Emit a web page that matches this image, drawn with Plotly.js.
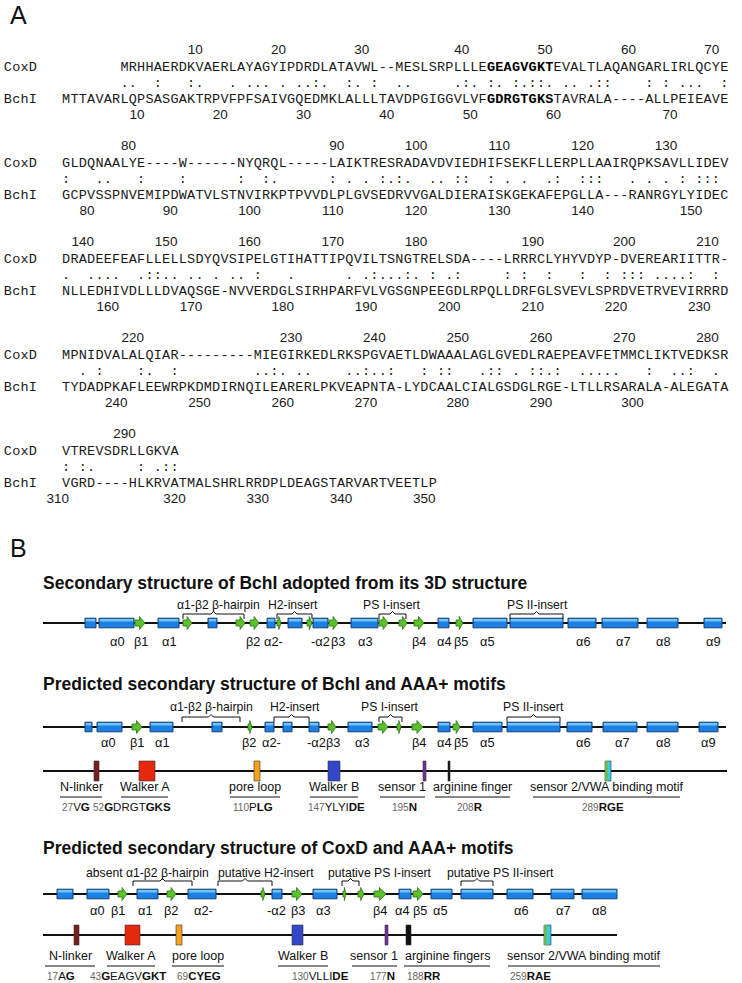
<!DOCTYPE html>
<html>
<head>
<meta charset="utf-8">
<script src="https://cdn.plot.ly/plotly-3.0.1.min.js"></script>
<style>html,body{margin:0;padding:0;background:#fff;}</style>
</head>
<body>
<div id="fig" style="width:742px;height:983px;"></div>
<script>
// ================= Panel A : alignment data =================
const coxdRows = [
  "MRHHAERDKVAERLAYAGYIPDRDLATAVWL--MESLSRPLLLEGEAGVGKTEVALTLAQANGARLIRLQCYE",
  "GLDQNAALYE----W------NYQRQL-----LAIKTRESRADAVDVIEDHIFSEKFLLERPLLAAIRQPKSAVLLIDEV",
  "DRADEEFEAFLLELLSDYQVSIPELGTIHATTIPQVILTSNGTRELSDA----LRRRCLYHYVDYP-DVEREARIITTR-",
  "MPNIDVALALQIAR---------MIEGIRKEDLRKSPGVAETLDWAAALAGLGVEDLRAEPEAVFETMMCLIKTVEDKSR",
  "VTREVSDRLLGKVA"
];
const coxdStartCol = [7, 0, 0, 0, 0];
const bchiRows = [
  "MTTAVARLQPSASGAKTRPVFPFSAIVGQEDMKLALLLTAVDPGIGGVLVFGDRGTGKSTAVRALA----ALLPEIEAVE",
  "GCPVSSPNVEMIPDWATVLSTNVIRKPTPVVDLPLGVSEDRVVGALDIERAISKGEKAFEPGLLA---RANRGYLYIDEC",
  "NLLEDHIVDLLLDVAQSGE-NVVERDGLSIRHPARFVLVGSGNPEEGDLRPQLLDRFGLSVEVLSPRDVETRVEVIRRRD",
  "TYDADPKAFLEEWRPKDMDIRNQILEARERLPKVEAPNTA-LYDCAALCIALGSDGLRGE-LTLLRSARALA-ALEGATA",
  "VGRD----HLKRVATMALSHRLRRDPLDEAGSTARVARTVEETLP"
];
const matchRows = [
  "       ..  :   :.   . ... . ..:.  :. :  ..     .:. :. :.::. .. .::    : : ...  :",
  ":   ..   :    :      :  :.      : . . :.:.  .. ::  : . .  .:  :::   . . . : :::",
  ".  ....  .::.. .. . .. :   .      . .:...:. : .:     : :  :   :  : ::: ....:  :",
  "  . :    :.  :         ..:. ..    ..:..:   : ::   .:: . ::.:  .....   :  ..:  .",
  ": :.     : .::"
];
const seqNames = ["CoxD", "BchI"];
// bold (Walker A) runs: [block, firstCol, lastCol]
const coxdBold = [[0, 51, 58]];
const bchiBold = [[0, 51, 58]];

// ================= Panel B : secondary structure data =================
const ss1 = {
  title: "Secondary structure of BchI adopted from its 3D structure",
  line: [43, 726],
  helix: [[85,96],[99,134],[158,179],[208,217],[267,275],[288,302],[313,328],[351,378],[438,449],[473,507],[510,563],[568,596],[602,638],[647,678],[704,722]],
  strand: [[135,145],[183,192],[236,245],[250,259],[277,281],[307,312],[329,338],[379,388],[399,407],[414,424],[456,463]],
  names: ["α0","β1","α1","β2","α2-","-α2","β3","α3","β4","α4","β5","α5","α6","α7","α8","α9"],
  nameX: [117,141,169,253,273,320,338,365,419,444,461,487,583,623,663,713],
  ins: ["α1-β2 β-hairpin","H2-insert","PS I-insert","PS II-insert"],
  insSpan: [[183,244],[277,312],[379,406],[510,563]],
  insX: [218,293,392,537]
};
const ss2 = {
  title: "Predicted secondary structure of BchI and AAA+ motifs",
  line: [43, 726],
  helix: [[85,92],[97,122],[150,173],[212,222],[265,274],[283,292],[309,319],[348,372],[438,450],[473,502],[507,560],[567,592],[603,637],[647,678],[699,718]],
  strand: [[132,142],[248,252],[328,336],[378,388],[397,401],[412,423],[453,460]],
  names: ["α0","β1","α1","β2","α2-","-α2","β3","α3","β4","α4","β5","α5","α6","α7","α8","α9"],
  nameX: [108,137,162,249,271,316,333,362,419,444,461,487,583,622,663,708],
  ins: ["α1-β2 β-hairpin","H2-insert","PS I-insert","PS II-insert"],
  insSpan: [[182,240],[274,309],[379,402],[507,560]],
  insX: [211,295,390,533]
};
const ss3 = {
  title: "Predicted secondary structure of CoxD and AAA+ motifs",
  line: [43, 617],
  helix: [[57,73],[87,109],[137,158],[188,216],[272,282],[313,337],[399,411],[431,452],[461,493],[507,533],[551,574],[582,617]],
  strand: [[118,127],[167,176],[261,265],[292,302],[343,346],[358,364],[374,386],[413,423]],
  names: ["α0","β1","α1","β2","α2-","-α2","β3","α3","β4","α4","β5","α5","α6","α7","α8"],
  nameX: [97,118,145,171,203,276,298,323,380,402,420,440,521,563,599],
  ins: ["absent α1-β2 β-hairpin","putative H2-insert","putative PS I-insert","putative PS II-insert"],
  insSpan: [[133,192],[218,272],[342,359],[461,493]],
  insX: [147,266,380,500]
};
// AAA+ motifs
const motifNames2 = ["N-linker","Walker A","pore loop","Walker B","sensor 1","arginine finger","sensor 2/VWA binding motif"];
const motifNames3 = ["N-linker","Walker A","pore loop","Walker B","sensor 1","arginine fingers","sensor 2/VWA binding motif"];
const motifColors = ["#7a1f1f","#e4290c","#f6a21c","#3447c8","#7b2a9c","#111111","#33cfe6"];
const motifBox2 = [[94,99],[139,155],[254,260],[328,340],[423,426],[448,450],[605,611]];
const motifBox3 = [[74,79],[125,140],[176,182],[292,303],[385,388],[406,411],[544,551]];
const motifSeq2 = ["27V<b>G</b>","52<b>G</b>DRGT<b>GKS</b>","110P<b>LG</b>","147YLYI<b>DE</b>","195<b>N</b>","208<b>R</b>","289<b>RGE</b>"];
const motifSeq3 = ["17A<b>G</b>","43<b>G</b>EAGV<b>GKT</b>","69<b>CYEG</b>","130VLLI<b>DE</b>","177<b>N</b>","188<b>RR</b>","259<b>RAE</b>"];
const motifLabelX2 = [81,145,255,334,402,472,607];
const motifLabelX3 = [70,131,198,303,374,447,584];
const motifUnder2 = [[60,102],[121,168],[230,280],[310,358],[380,425],[435,510],[533,680]];
const motifUnder3 = [[45,95],[107,155],[172,224],[278,328],[352,397],[404,490],[508,660]];
const motifSeqX2 = [76,132,253,336,404,470,603];
const motifSeqX3 = [45,88,175,290,368,405,508];

// ================= drawing =================
const X0 = 62, CW = 8.33;
const BLOCK_Y = 51, BLOCK_DY = 96;
const ROW = {numTop: 0, coxd: 17, match: 33, bchi: 49, numBot: 65};
const colX = c => X0 + (c + 0.5) * CW;
const inRuns = (runs, b, c) => runs.some(r => r[0] === b && c >= r[1] && c <= r[2]);

const norm = {x:[], y:[], t:[]}, bold = {x:[], y:[], t:[]}, nums = {x:[], y:[], t:[]};
let coxdRes = 0, bchiRes = 0;
for (let b = 0; b < coxdRows.length; b++) {
  const y0 = BLOCK_Y + b * BLOCK_DY;
  seqNames.forEach((nm, i) => {
    for (let k = 0; k < nm.length; k++) {
      norm.x.push(colX(k - 7)); norm.y.push(y0 + (i ? ROW.bchi : ROW.coxd)); norm.t.push(nm[k]);
    }
  });
  const cs = coxdRows[b];
  for (let i = 0; i < cs.length; i++) {
    const c = coxdStartCol[b] + i, ch = cs[i];
    const tg = inRuns(coxdBold, b, c) ? bold : norm;
    tg.x.push(colX(c)); tg.y.push(y0 + ROW.coxd); tg.t.push(ch);
    if (ch !== '-') {
      coxdRes++;
      if (coxdRes % 10 === 0) {
        const s = String(coxdRes);
        nums.x.push(X0 + (c + 1 - s.length / 2) * CW); nums.y.push(y0 + ROW.numTop); nums.t.push(s);
      }
    }
  }
  const bs = bchiRows[b];
  for (let c = 0; c < bs.length; c++) {
    const ch = bs[c];
    const tg = inRuns(bchiBold, b, c) ? bold : norm;
    tg.x.push(colX(c)); tg.y.push(y0 + ROW.bchi); tg.t.push(ch);
    if (ch !== '-') {
      bchiRes++;
      if (bchiRes % 10 === 0) {
        const s = String(bchiRes);
        nums.x.push(X0 + (c + 1 - s.length / 2) * CW); nums.y.push(y0 + ROW.numBot); nums.t.push(s);
      }
    }
  }
  const ms = matchRows[b];
  for (let c = 0; c < ms.length; c++) {
    if (ms[c] !== ' ') { norm.x.push(colX(c)); norm.y.push(y0 + ROW.match); norm.t.push(ms[c]); }
  }
}

const seqFontFam = "Liberation Mono, Courier New, monospace";
const traces = [
  {type:'scatter', mode:'text', x:norm.x, y:norm.y, text:norm.t, textposition:'middle center',
   textfont:{family:seqFontFam, size:13.5, color:'#1a1a1a'}, hoverinfo:'skip', showlegend:false, cliponaxis:false},
  {type:'scatter', mode:'text', x:bold.x, y:bold.y, text:bold.t, textposition:'middle center',
   textfont:{family:seqFontFam, size:13.5, color:'#000', weight:'bold'}, hoverinfo:'skip', showlegend:false, cliponaxis:false},
  {type:'scatter', mode:'text', x:nums.x, y:nums.y, text:nums.t, textposition:'middle center',
   textfont:{family:"Liberation Sans, Arial, sans-serif", size:13.5, color:'#1a1a1a'}, hoverinfo:'skip', showlegend:false, cliponaxis:false}
];

const shapes = [];
const annotations = [];
const SANS = "Liberation Sans, Arial, sans-serif";
function ann(x, y, text, size, opts) {
  annotations.push(Object.assign({x:x, y:y, xref:'x', yref:'y', text:text, showarrow:false,
    xanchor:'center', yanchor:'middle', font:{family:SANS, size:size, color:'#111'}}, opts || {}));
}
function hline(x0, x1, y, w, col) {
  shapes.push({type:'line', xref:'x', yref:'y', x0:x0, x1:x1, y0:y, y1:y, line:{color:col || '#111', width:w || 1.5}, layer:'below'});
}
function helix(x0, x1, y) {
  shapes.push({type:'rect', xref:'x', yref:'y', x0:x0, x1:x1, y0:y - 4.8, y1:y + 4.8, fillcolor:'#1c7fe4', line:{color:'#16406f', width:1}});
  shapes.push({type:'rect', xref:'x', yref:'y', x0:x0 + 0.8, x1:x1 - 0.8, y0:y - 4, y1:y - 1.5, fillcolor:'#6ec3f7', line:{width:0}});
}
function strand(x0, x1, y) {
  const hx = x0 + (x1 - x0) * 0.45;
  const p = `M${x0},${y-3} L${hx},${y-3} L${hx},${y-6.5} L${x1},${y} L${hx},${y+6.5} L${hx},${y+3} L${x0},${y+3} Z`;
  shapes.push({type:'path', xref:'x', yref:'y', path:p, fillcolor:'#5cc12a', line:{color:'#2b7414', width:0.8}});
}
function bracket(x0, x1, xm, y) {
  const p = `M${x0},${y+5} L${x0},${y} L${xm-2.5},${y} L${xm},${y-2.5} L${xm+2.5},${y} L${x1},${y} L${x1},${y+5}`;
  shapes.push({type:'path', xref:'x', yref:'y', path:p, line:{color:'#111', width:1}});
}
function drawSS(d, yTitle, yIns, yBr, yLine, yName) {
  ann(41, yTitle, "<b>" + d.title + "</b>", 17.5, {xanchor:'left'});
  hline(d.line[0], d.line[1], yLine, 2);
  d.helix.forEach(h => helix(h[0], h[1], yLine));
  d.strand.forEach(s => strand(s[0], s[1], yLine));
  d.names.forEach((n, i) => ann(d.nameX[i], yName, n, 12.8));
  d.ins.forEach((n, i) => {
    ann(d.insX[i], yIns, n, 12.2);
    const sp = d.insSpan[i];
    bracket(sp[0], sp[1], (sp[0] + sp[1]) / 2, yBr);
  });
}
function drawMotifs(line, names, boxes, labelX, under, seqs, seqX, seqAnchor, yLine, yLab, yUnder, ySeq) {
  hline(line[0], line[1], yLine, 2);
  boxes.forEach((bx, i) => {
    shapes.push({type:'rect', xref:'x', yref:'y', x0:bx[0], x1:bx[1], y0:yLine - 10, y1:yLine + 10,
      fillcolor:motifColors[i], line:{color:'#333', width:0.6}});
    if (i === 6) {
      shapes.push({type:'rect', xref:'x', yref:'y', x0:bx[0], x1:bx[0] + 2.5, y0:yLine - 10, y1:yLine + 10,
        fillcolor:'#79b43a', line:{width:0}});
    }
  });
  names.forEach((n, i) => {
    ann(labelX[i], yLab, n, 12.5);
    shapes.push({type:'line', xref:'x', yref:'y', x0:under[i][0], x1:under[i][1], y0:yUnder, y1:yUnder, line:{color:'#111', width:1}});
    const txt = seqs[i].replace(/^(\d+)/, "<span style='color:#666;font-size:10px'>$1</span>");
    ann(seqX[i], ySeq, txt, 11.5, {xanchor:seqAnchor});
  });
}

// panel letters
ann(8, 15, "A", 25, {xanchor:'left'});
ann(8, 548, "B", 25, {xanchor:'left'});

drawSS(ss1, 583, 605, 614, 623, 641);
drawSS(ss2, 684, 707, 717, 727, 742);
drawMotifs([43, 727], motifNames2, motifBox2, motifLabelX2, motifUnder2, motifSeq2, motifSeqX2, 'center', 771, 787, 797, 807);
drawSS(ss3, 848, 873, 881, 894, 910);
drawMotifs([43, 617], motifNames3, motifBox3, motifLabelX3, motifUnder3, motifSeq3, motifSeqX3, 'left', 935, 956, 966, 976);

const layout = {
  width: 742, height: 983,
  margin: {l:0, r:0, t:0, b:0},
  paper_bgcolor: '#fff', plot_bgcolor: '#fff',
  xaxis: {range:[0, 742], visible:false, fixedrange:true},
  yaxis: {range:[983, 0], visible:false, fixedrange:true},
  shapes: shapes,
  annotations: annotations,
  showlegend: false
};
Plotly.newPlot('fig', traces, layout, {staticPlot:true, displayModeBar:false});
</script>
</body>
</html>
